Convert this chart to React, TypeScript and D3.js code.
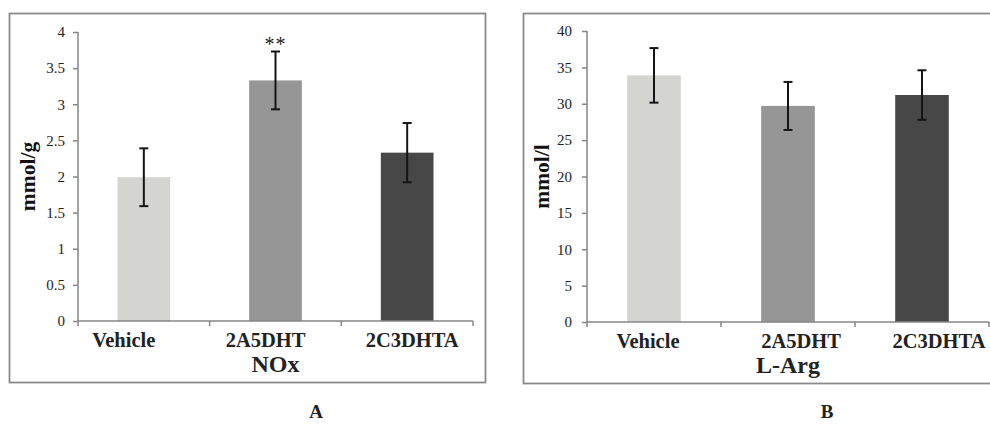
import * as d3 from "d3";
import React, {useEffect, useRef} from "react";

// data
const categories = ["Vehicle", "2A5DHT", "2C3DHTA"];
const barColors = ["#d4d5d0", "#969696", "#474747"];

const noxValues = [1.99, 3.33, 2.33];
const noxErrors = [0.4, 0.4, 0.41];
const noxMarks = ["", "**", ""];
const noxTicks = [0, 0.5, 1, 1.5, 2, 2.5, 3, 3.5, 4];

const argValues = [33.9, 29.7, 31.2];
const argErrors = [3.75, 3.3, 3.4];
const argMarks = ["", "", ""];
const argTicks = [0, 5, 10, 15, 20, 25, 30, 35, 40];

const FONT = "Liberation Serif";

const Panel = ({values, errors, marks, ticks, yMax, yLabel, title, letter, layout}) => {
    const yAxisRef = useRef(null);
    const {left, right, top, bottom, frame, tickPad, labelShift, yLabelX, letterX} = layout;

    const x = d3.scaleBand()
        .domain(categories)
        .range([left, right])
        .paddingInner(0.6)
        .paddingOuter(0.3);

    const y = d3.scaleLinear()
        .domain([0, yMax])
        .range([bottom, top]);

    const step = x.step();

    useEffect(() => {
        const g = d3.select(yAxisRef.current);
        g.selectAll("*").remove();
        g.call(d3.axisLeft(y).tickValues(ticks).tickSize(5).tickPadding(tickPad).tickFormat(d => String(d)));
        g.attr("font-family", FONT).attr("font-size", 15);
        g.select(".domain").remove();
        g.selectAll("line").attr("stroke", "#868686").attr("stroke-width", 1.5);
        g.selectAll("text").attr("fill", "#222");
    }, [values, ticks, yMax]);

    return (
        <g>
            <rect x={frame.x} y={frame.y} width={frame.w} height={frame.h}
                  fill="white" stroke="#8a8a8a" strokeWidth={1.8}/>

            {categories.map((c, i) => (
                <rect key={c} x={x(c)} y={y(values[i])} width={x.bandwidth()}
                      height={y(0) - y(values[i])} fill={barColors[i]}/>
            ))}

            {/* error bars */}
            {categories.map((c, i) => {
                const cx = x(c) + x.bandwidth() / 2;
                const hi = y(values[i] + errors[i]);
                const lo = y(values[i] - errors[i]);
                return (
                    <g key={c} stroke="#151515" strokeWidth={2}>
                        <line x1={cx} x2={cx} y1={hi} y2={lo}/>
                        <line x1={cx - 4.5} x2={cx + 4.5} y1={hi} y2={hi}/>
                        <line x1={cx - 4.5} x2={cx + 4.5} y1={lo} y2={lo}/>
                    </g>
                );
            })}

            {categories.map((c, i) => marks[i] ? (
                <text key={c} x={x(c) + x.bandwidth() / 2} y={y(values[i] + errors[i]) - 1}
                      textAnchor="middle" fontFamily={FONT} fontSize={20} fill="#1a1a1a"
                      letterSpacing={1}>{marks[i]}</text>
            ) : null)}

            {/* axes */}
            <g ref={yAxisRef} transform={`translate(${left},0)`}/>
            <line x1={left} x2={left} y1={top} y2={bottom} stroke="#868686" strokeWidth={1.5}/>
            <line x1={left} x2={right} y1={bottom} y2={bottom} stroke="#868686" strokeWidth={1.5}/>
            {d3.range(categories.length + 1).map(i => (
                <line key={i} x1={left + i * step} x2={left + i * step} y1={bottom} y2={bottom + 5}
                      stroke="#868686" strokeWidth={1.5}/>
            ))}

            {categories.map((c, i) => (
                <text key={c} x={x(c) + x.bandwidth() / 2 + labelShift[i]} y={bottom + 26}
                      textAnchor="middle" fontFamily={FONT} fontWeight="bold" fontSize={20.5}
                      fill="#222">{c}</text>
            ))}

            <text x={left + (right - left) / 2} y={bottom + 51} textAnchor="middle"
                  fontFamily={FONT} fontWeight="bold" fontSize={24} fill="#222">{title}</text>

            <text transform={`translate(${yLabelX},${(top + bottom) / 2}) rotate(-90)`}
                  textAnchor="middle" fontFamily={FONT} fontWeight="bold" fontSize={21.5}
                  fill="#111">{yLabel}</text>

            <text x={letterX} y={418} textAnchor="middle" fontFamily={FONT} fontWeight="bold"
                  fontSize={19} fill="#222">{letter}</text>
        </g>
    );
};

const layoutA = {
    left: 78, right: 473, top: 32, bottom: 321,
    frame: {x: 9.5, y: 13.5, w: 476, h: 369},
    tickPad: 8, labelShift: [-20, -10, 5], yLabelX: 35, letterX: 316
};

const layoutB = {
    left: 587, right: 989, top: 31, bottom: 322,
    frame: {x: 523.5, y: 13.5, w: 480, h: 370},
    tickPad: 10, labelShift: [-6, 13, 17], yLabelX: 549, letterX: 827
};

export default function App() {
    return (
        <svg width={990} height={425} style={{position: "absolute", left: 0, top: 0, background: "white"}}>
            <rect width={990} height={425} fill="white"/>
            <Panel values={noxValues} errors={noxErrors} marks={noxMarks} ticks={noxTicks} yMax={4}
                   yLabel="mmol/g" title="NOx" letter="A" layout={layoutA}/>
            <Panel values={argValues} errors={argErrors} marks={argMarks} ticks={argTicks} yMax={40}
                   yLabel="mmol/l" title="L-Arg" letter="B" layout={layoutB}/>
        </svg>
    );
}
